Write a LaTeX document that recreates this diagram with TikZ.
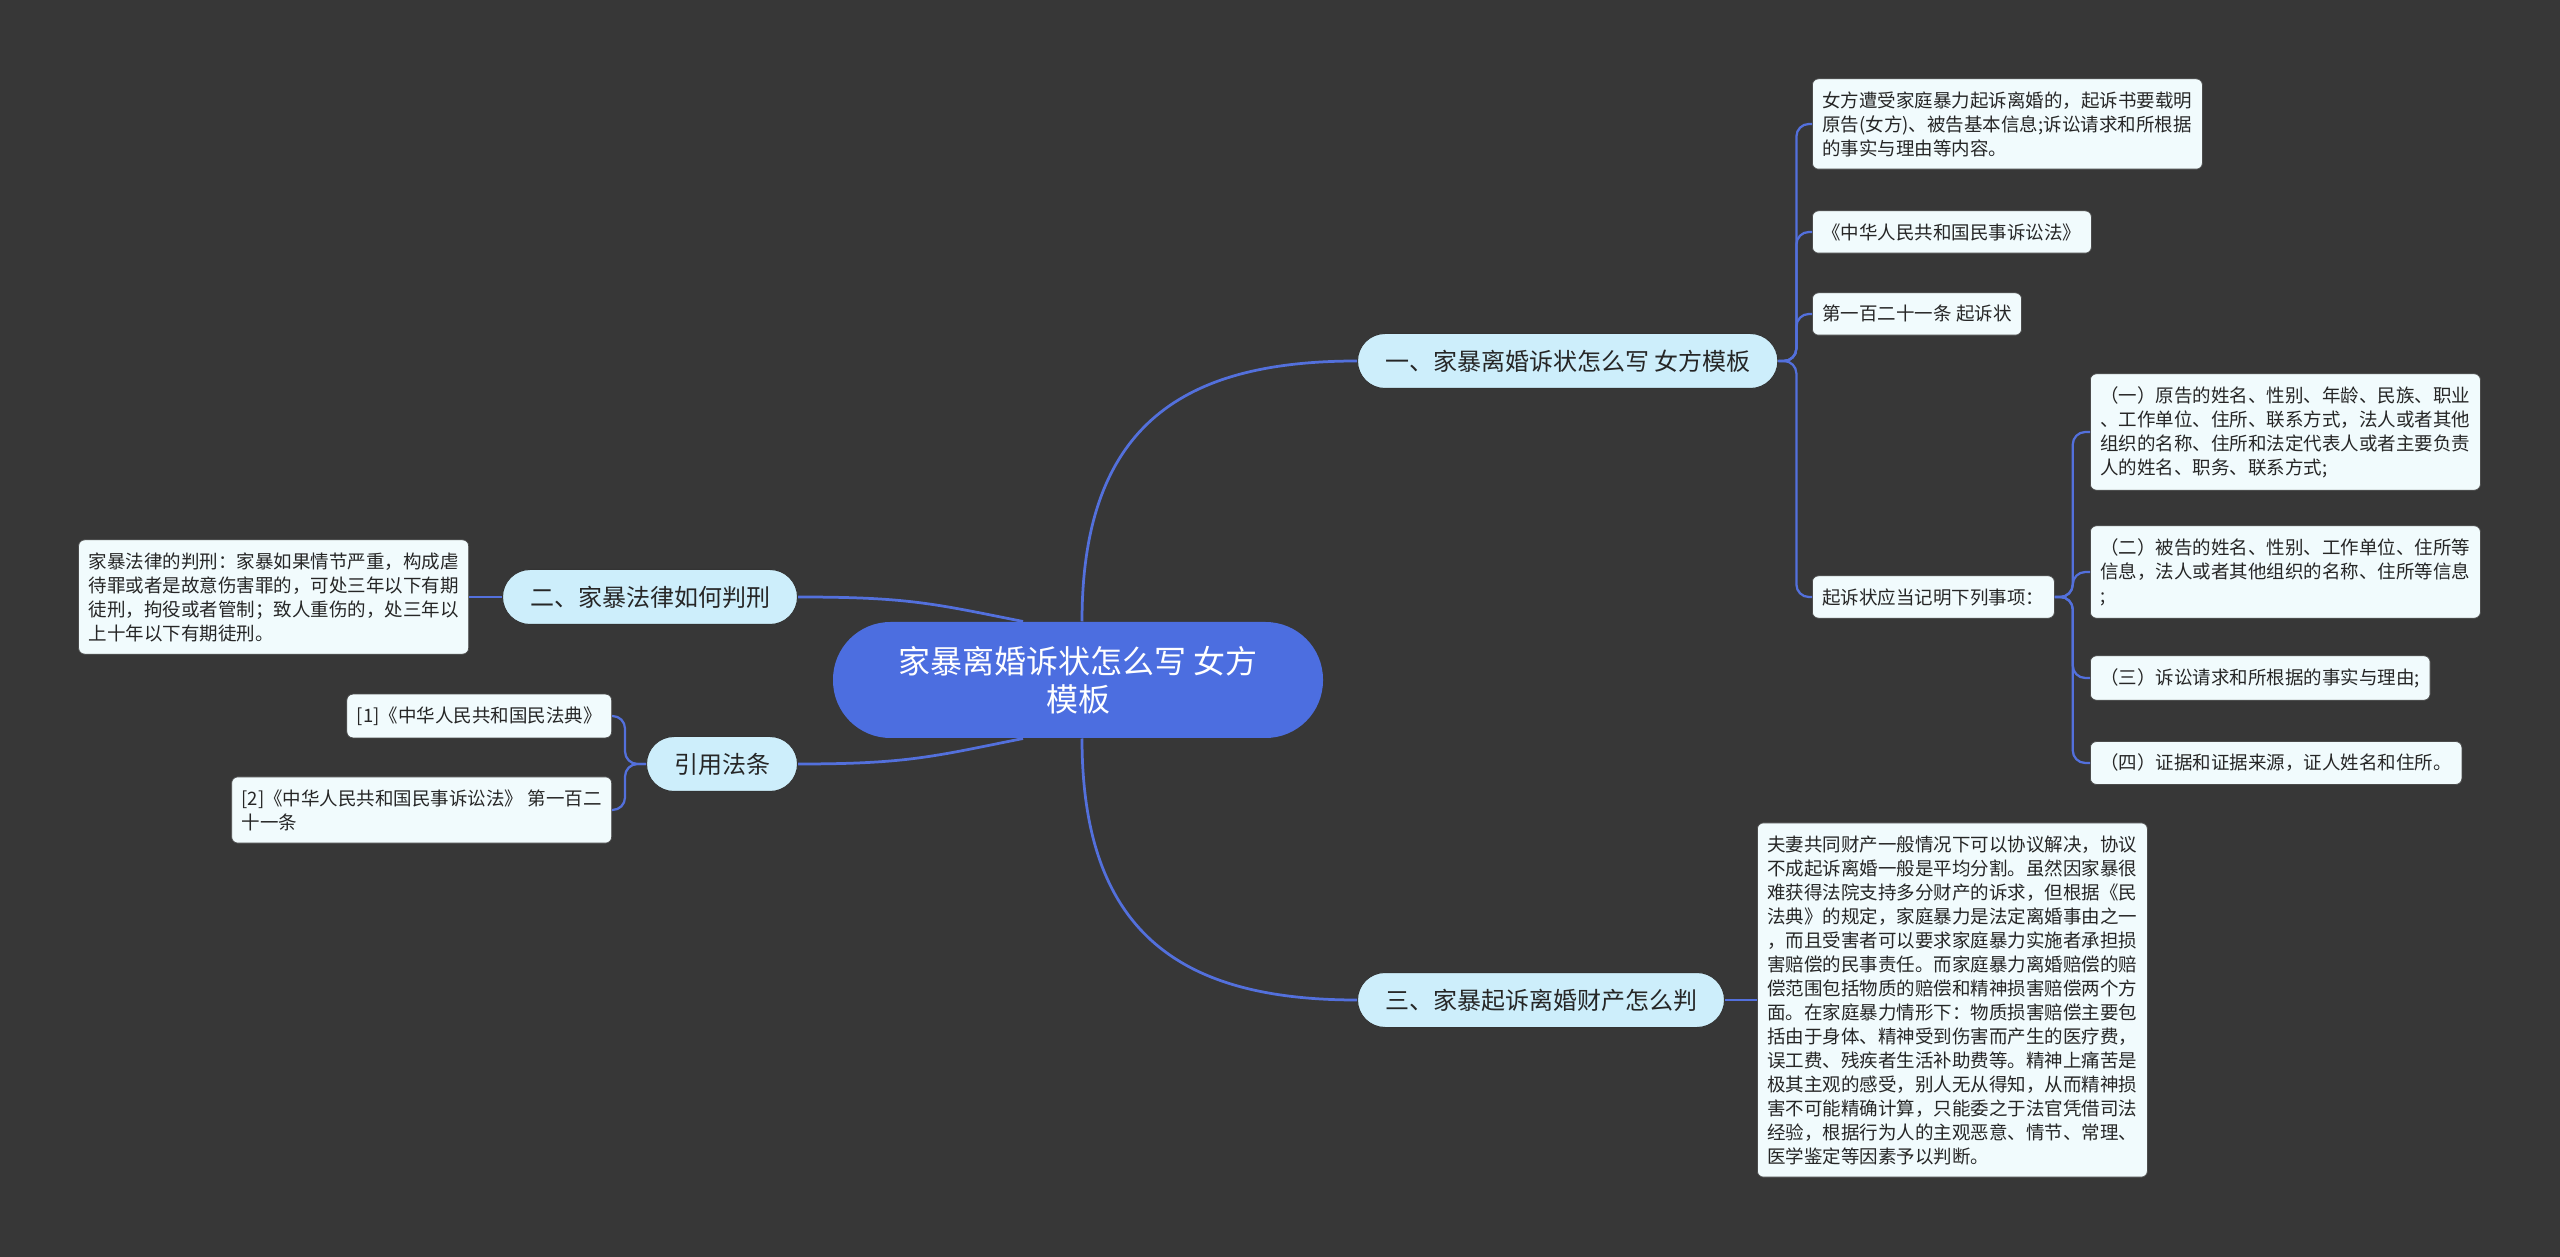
\documentclass[tikz,border=0pt]{standalone}
\usepackage{fontspec}
\usepackage{xcolor}
\newfontfamily\cjk{Noto Sans CJK SC}
\definecolor{nenxam}{HTML}{373737}
\definecolor{gocxanh}{HTML}{4C6EE0}
\definecolor{nhanh}{HTML}{CDEEFB}
\definecolor{la}{HTML}{F1FBFD}
\definecolor{duongnoi}{HTML}{5370DC}

\begin{document}
\begin{tikzpicture}[x=0.4pt,y=-0.4pt,
		rootnode/.style={fill=gocxanh,text=white,rounded corners=23pt,minimum width=196pt,minimum height=46.4pt,align=center,font=\cjk\fontsize{12.8pt}{15pt}\selectfont},
		topic/.style={fill=nhanh,draw=black!80,line width=0.4pt,rounded corners=11pt,minimum height=22pt,inner xsep=11pt,font=\cjk\fontsize{9.6pt}{11pt}\selectfont,text=black!85},
		leaf/.style={fill=la,draw=black!70,line width=0.3pt,rounded corners=2.4pt,inner xsep=4pt,inner ysep=5pt,align=left,font=\cjk\fontsize{7.4pt}{9.6pt}\selectfont,text=black!85},
		link/.style={draw=duongnoi,line width=1.1pt},
		sublink/.style={draw=duongnoi,line width=0.9pt,rounded corners=5pt}]
		\fill[nenxam] (0,0) rectangle (2560,1257);
		\useasboundingbox (0,0) rectangle (2560,1257);
		
		\node[rootnode] (goc) at (1078,680) {家暴离婚诉状怎么写 女方\\模板};
		\node[topic,anchor=west] (mot) at (1357,361) {一、家暴离婚诉状怎么写 女方模板};
		\node[topic,anchor=east] (hai) at (798,597) {二、家暴法律如何判刑};
		\node[topic,anchor=east] (dan) at (798,764) {引用法条};
		\node[topic,anchor=west] (ba) at (1357,1000) {三、家暴起诉离婚财产怎么判};
		
		\node[leaf,anchor=west] (mot1) at (1812,124) {女方遭受家庭暴力起诉离婚的，起诉书要载明\\原告(女方)、被告基本信息;诉讼请求和所根据\\的事实与理由等内容。};
		\node[leaf,anchor=west] (mot2) at (1812,232) {《中华人民共和国民事诉讼法》};
		\node[leaf,anchor=west] (mot3) at (1812,314) {第一百二十一条 起诉状};
		\node[leaf,anchor=west] (mot4) at (1812,597) {起诉状应当记明下列事项：};
		\node[leaf,anchor=west] (muc1) at (2090,432) {（一）原告的姓名、性别、年龄、民族、职业\\、工作单位、住所、联系方式，法人或者其他\\组织的名称、住所和法定代表人或者主要负责\\人的姓名、职务、联系方式;};
		\node[leaf,anchor=west] (muc2) at (2090,572) {（二）被告的姓名、性别、工作单位、住所等\\信息，法人或者其他组织的名称、住所等信息\\;};
		\node[leaf,anchor=west] (muc3) at (2090,678) {（三）诉讼请求和所根据的事实与理由;};
		\node[leaf,anchor=west] (muc4) at (2090,763) {（四）证据和证据来源，证人姓名和住所。};
		\node[leaf,anchor=east] (hai1) at (469,597) {家暴法律的判刑：家暴如果情节严重，构成虐\\待罪或者是故意伤害罪的，可处三年以下有期\\徒刑，拘役或者管制；致人重伤的，处三年以\\上十年以下有期徒刑。};
		\node[leaf,anchor=east] (dan1) at (612,716) {[1]《中华人民共和国民法典》};
		\node[leaf,anchor=east] (dan2) at (612,810) {[2]《中华人民共和国民事诉讼法》 第一百二\\十一条};
		\node[leaf,anchor=west] (ba1) at (1757,1000) {夫妻共同财产一般情况下可以协议解决，协议\\不成起诉离婚一般是平均分割。虽然因家暴很\\难获得法院支持多分财产的诉求，但根据《民\\法典》的规定，家庭暴力是法定离婚事由之一\\，而且受害者可以要求家庭暴力实施者承担损\\害赔偿的民事责任。而家庭暴力离婚赔偿的赔\\偿范围包括物质的赔偿和精神损害赔偿两个方\\面。在家庭暴力情形下：物质损害赔偿主要包\\括由于身体、精神受到伤害而产生的医疗费，\\误工费、残疾者生活补助费等。精神上痛苦是\\极其主观的感受，别人无从得知，从而精神损\\害不可能精确计算，只能委之于法官凭借司法\\经验，根据行为人的主观恶意、情节、常理、\\医学鉴定等因素予以判断。};
		
		\draw[link] ([xshift=1.6pt]goc.north) .. controls +(0,-200) and +(-170,0) .. (mot.west);
		\draw[link] ([xshift=1.6pt]goc.south) .. controls +(0,200) and +(-170,0) .. (ba.west);
		\draw[link] (hai.east) .. controls +(110,0) and +(-90,-18) .. ([xshift=-22pt]goc.north);
		\draw[link] (dan.east) .. controls +(110,0) and +(-90,18) .. ([xshift=-22pt]goc.south);
		
		\foreach \la in {mot1,mot2,mot3,mot4}
			\draw[sublink] (mot.east) -- ++(18,0) |- (\la.west);
		\foreach \la in {muc1,muc2,muc3,muc4}
			\draw[sublink] (mot4.east) -- ++(18,0) |- (\la.west);
		\foreach \la in {dan1,dan2}
			\draw[sublink] (dan.west) -- ++(-21,0) |- (\la.east);
		\draw[sublink] (hai.west) -- (hai1.east);
		\draw[sublink] (ba.east) -- (ba1.west);
	\end{tikzpicture}
\end{document}
